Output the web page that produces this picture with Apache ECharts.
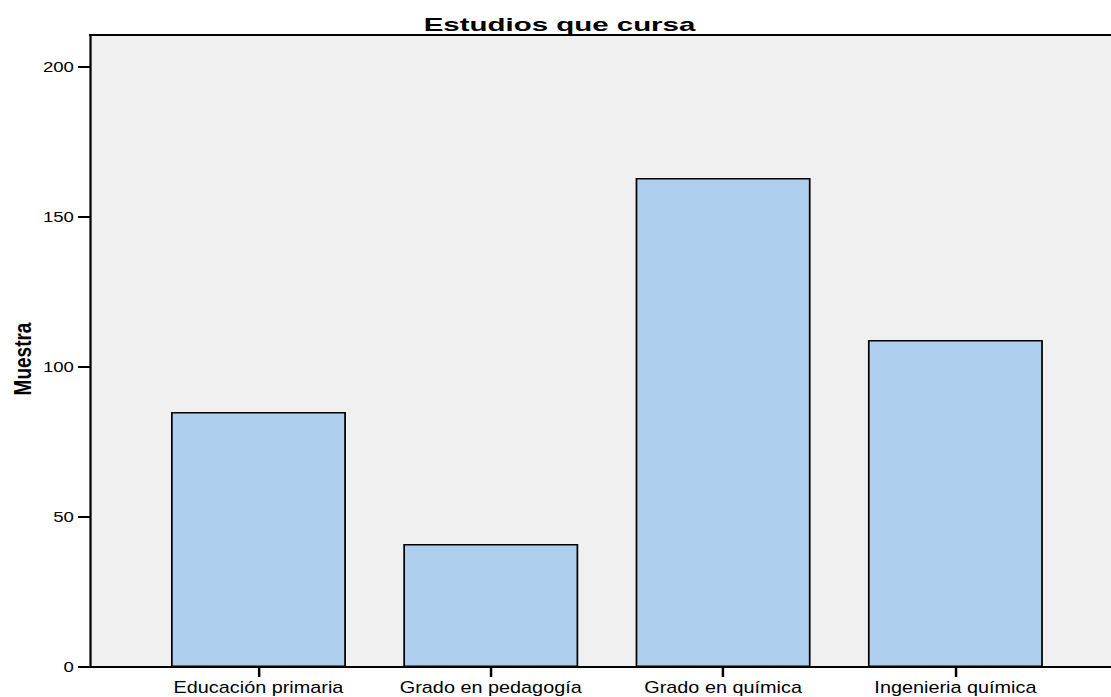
<!DOCTYPE html>
<html>
<head>
<meta charset="utf-8">
<script src="https://cdn.jsdelivr.net/npm/echarts@6/dist/echarts.min.js"></script>
<style>
html,body{margin:0;padding:0;background:#fff;overflow:hidden;width:1111px;height:697px}
#c{width:940px;height:697px;transform:scaleX(1.24);transform-origin:0 0}
</style>
</head>
<body>
<div id="c"></div>
<script>
const title = 'Estudios que cursa';
const yName = 'Muestra';
const categories = ['Educación primaria', 'Grado en pedagogía', 'Grado en química', 'Ingenieria química'];
const values = [85, 41, 163, 109];
const yTicks = [0, 50, 100, 150, 200];

const chart = echarts.init(document.getElementById('c'), null, { renderer: 'svg' });
const yMax = 210.67;
const font = 'Liberation Sans, Arial, sans-serif';
chart.setOption({
  animation: false,
  graphic: [{
    type: 'text', x: 451.2, y: 15.6, scaleX: 1.32, originX: 0, originY: 0,
    style: { text: title, font: 'bold 18px ' + font, fill: '#000', align: 'center', verticalAlign: 'top' }
  }],
  grid: [
    { left: 72.6, top: 35, right: 0, bottom: 30, show: true, backgroundColor: '#f0f0f0', borderWidth: 0, borderColor: 'transparent', outerBoundsMode: 'none', containLabel: false },
    { left: 114.76, top: 35, width: 749.4, bottom: 30, outerBoundsMode: 'none', containLabel: false }
  ],
  xAxis: [
    { gridIndex: 0, type: 'value', min: 0, max: 1, position: 'bottom', axisLine: { show: true, onZero: false, lineStyle: { color: '#000', width: 1.8 } },
      axisTick: { show: false }, axisLabel: { show: false }, splitLine: { show: false } },
    { gridIndex: 1, type: 'category', data: categories, boundaryGap: true,
      axisLine: { show: false },
      axisTick: { show: true, alignWithLabel: true, length: 10, lineStyle: { color: '#000', width: 2 } },
      axisLabel: { color: '#000', fontFamily: font, fontSize: 16, margin: 13, interval: 0 },
      splitLine: { show: false } },
    { gridIndex: 0, type: 'value', min: 0, max: 1, position: 'top', axisLine: { show: true, onZero: false, lineStyle: { color: '#000', width: 2 } },
      axisTick: { show: false }, axisLabel: { show: false }, splitLine: { show: false } }
  ],
  yAxis: [
    { gridIndex: 0, type: 'value', min: 0, max: yMax, interval: 50,
      name: yName, nameLocation: 'middle', nameGap: 44.4, nameRotate: 90, nameMoveOverlap: false,
      nameTextStyle: { fontFamily: font, fontSize: 19, fontWeight: 'bold', color: '#000', padding: [0, 16, 0, 0] },
      axisLine: { show: true, onZero: false, lineStyle: { color: '#000', width: 1.8 } },
      axisTick: { show: true, length: 9.7, customValues: yTicks, lineStyle: { color: '#000', width: 2 } },
      axisLabel: { color: '#000', fontFamily: font, fontSize: 15, margin: 13, customValues: yTicks },
      splitLine: { show: false } },
    { gridIndex: 1, type: 'value', min: 0, max: yMax, show: false }
  ],
  series: [{
    type: 'bar', xAxisIndex: 1, yAxisIndex: 1, data: values, barWidth: 141.1,
    itemStyle: { color: '#aecfee', borderColor: '#000', borderWidth: 1.4 }
  }]
});
</script>
</body>
</html>
